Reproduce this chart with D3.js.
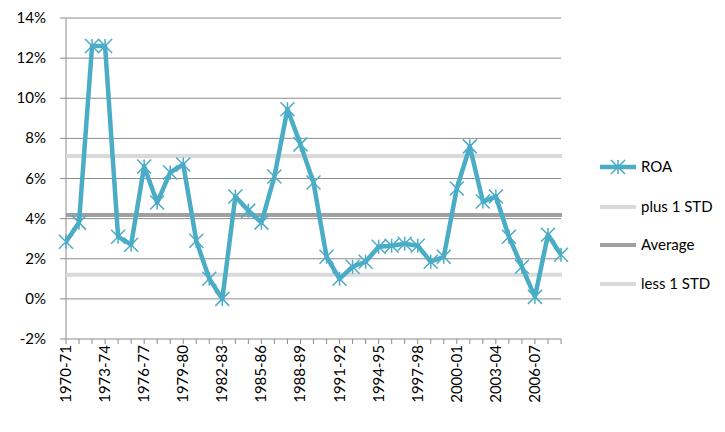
<!DOCTYPE html>
<html><head><meta charset="utf-8">
<script src="https://cdn.jsdelivr.net/npm/d3@7"></script>
<style>body{margin:0;background:#fff}text{font-family:Lato,"Open Sans",sans-serif;fill:#000}</style>
</head><body><svg id="c" width="725" height="432"></svg>
<script>
// Data
const years = ['1970-71','1971-72','1972-73','1973-74','1974-75','1975-76','1976-77','1977-78','1978-79','1979-80',
  '1980-81','1981-82','1982-83','1983-84','1984-85','1985-86','1986-87','1987-88','1988-89','1989-90',
  '1990-91','1991-92','1992-93','1993-94','1994-95','1995-96','1996-97','1997-98','1998-99','1999-00',
  '2000-01','2001-02','2002-03','2003-04','2004-05','2005-06','2006-07','2007-08','2008-09'];
const roa = [2.85,3.8,12.6,12.6,3.1,2.7,6.6,4.8,6.3,6.7,
  2.9,1.0,0.0,5.1,4.4,3.8,6.1,9.45,7.7,5.8,
  2.1,1.0,1.6,1.85,2.6,2.65,2.75,2.65,1.85,2.1,
  5.5,7.6,4.85,5.1,3.1,1.6,0.1,3.2,2.2];
const average = 4.18, plusStd = 7.12, lessStd = 1.2;
const yTicks = [-2,0,2,4,6,8,10,12,14];

const svg = d3.select('#c');
const x = d3.scalePoint().domain(years).range([66, 561]);
const y = d3.scaleLinear().domain([-2, 14]).range([339, 18]);

// gridlines
svg.append('g').selectAll('line').data(yTicks).enter().append('line')
  .attr('x1', 60).attr('x2', 561).attr('y1', d => y(d)).attr('y2', d => y(d))
  .attr('stroke', '#8c8c8c').attr('stroke-width', 1);
svg.append('line').attr('x1', 66).attr('x2', 66).attr('y1', 18).attr('y2', 339).attr('stroke', '#8c8c8c');

svg.append('g').selectAll('text').data(yTicks).enter().append('text')
  .attr('x', 46).attr('y', d => y(d) + 5).attr('text-anchor', 'end').style('font-size', '15px')
  .text(d => d + '%');

// x labels every 3
svg.append('g').selectAll('text').data(years.filter((d, i) => i % 3 == 0)).enter().append('text')
  .attr('transform', d => `translate(${x(d) + 5},345) rotate(-90)`)
  .attr('text-anchor', 'end').style('font-size', '15px').text(d => d);
svg.append('g').selectAll('line').data(years).enter().append('line')
  .attr('x1', d => x(d)).attr('x2', d => x(d)).attr('y1', 339).attr('y2', 344).attr('stroke', '#8c8c8c');

// stat lines
const stats = [[plusStd, '#d9d9d9'], [average, '#a0a0a0'], [lessStd, '#d9d9d9']];
svg.append('g').selectAll('line').data(stats).enter().append('line')
  .attr('x1', 66).attr('x2', 562).attr('y1', d => y(d[0])).attr('y2', d => y(d[0]))
  .attr('stroke', d => d[1]).attr('stroke-width', 4);

// ROA line
const col = '#4bacc6';
svg.append('path').datum(roa)
  .attr('d', d3.line().x((d, i) => x(years[i])).y(d => y(d)))
  .attr('fill', 'none').attr('stroke', col).attr('stroke-width', 4.5).attr('stroke-linejoin', 'round');

function star(g, cx, cy) {
  const r = 7;
  g.append('path').attr('d', `M${cx-r},${cy-r}L${cx+r},${cy+r}M${cx-r},${cy+r}L${cx+r},${cy-r}M${cx},${cy-r}L${cx},${cy+r}`)
    .attr('stroke', col).attr('stroke-width', 1.5);
}
const mg = svg.append('g');
roa.forEach((d, i) => star(mg, x(years[i]), y(d)));

// legend
const lg = svg.append('g');
lg.append('line').attr('x1', 600).attr('x2', 636).attr('y1', 167).attr('y2', 167).attr('stroke', col).attr('stroke-width', 4.5);
star(lg, 618, 167);
lg.append('text').attr('x', 641).attr('y', 172).style('font-size', '15px').text('ROA');
const legItems = [['plus 1 STD', '#d9d9d9', 207], ['Average', '#a0a0a0', 245], ['less 1 STD', '#d9d9d9', 284]];
legItems.forEach(d => {
  lg.append('line').attr('x1', 600).attr('x2', 636).attr('y1', d[2]).attr('y2', d[2]).attr('stroke', d[1]).attr('stroke-width', 4);
  lg.append('text').attr('x', 641).attr('y', d[2] + 5).style('font-size', '15px').text(d[0]);
});
</script></body></html>
